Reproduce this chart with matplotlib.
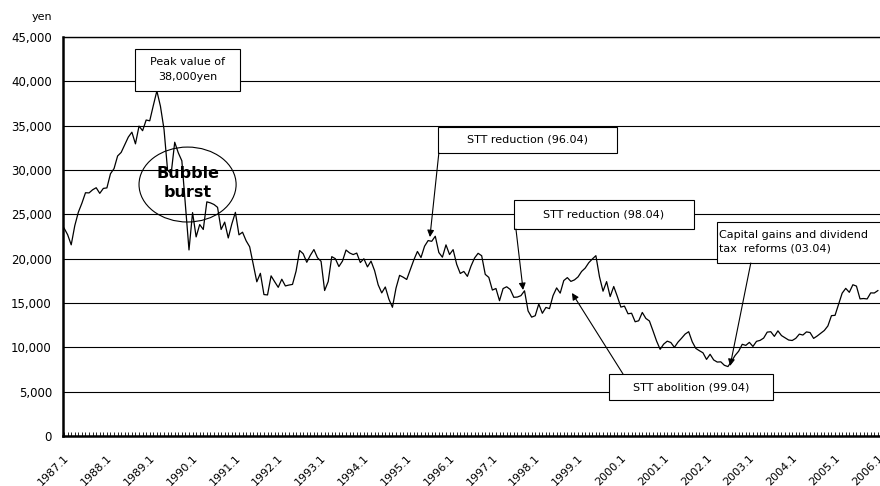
import matplotlib
matplotlib.use("Agg")
import matplotlib.pyplot as plt
import matplotlib.patches as patches
from matplotlib.ticker import FuncFormatter, MultipleLocator

plt.rcParams['font.family'] = ['DejaVu Sans']

# monthly closing values (yen), starting at the left edge of the chart
vals_1987 = [23450, 22700, 21560]
vals_1988 = [23719, 25240, 26260, 27434, 27417, 27769, 28000, 27366, 27924, 27982, 29579, 30159]
vals_1989 = [31581, 31985, 32839, 33713, 34266, 32948, 34954, 34431, 35637, 35549, 37268, 38916]
vals_1990 = [37189, 34592, 29980, 29585, 33131, 31940, 31036, 25978, 20984, 25194, 22455, 23849]
vals_1991 = [23293, 26409, 26292, 26111, 25790, 23291, 24121, 22336, 23916, 25222, 22688, 22984]
vals_1992 = [22023, 21339, 19346, 17391, 18348, 15952, 15910, 18061, 17399, 16768, 17684, 16925]
vals_1993 = [17024, 17098, 18591, 20919, 20552, 19590, 20380, 21027, 20106, 19703, 16408, 17417]
vals_1994 = [20229, 19997, 19112, 19725, 20974, 20644, 20462, 20629, 19564, 19990, 19076, 19723]
vals_1995 = [18650, 17053, 16140, 16807, 15437, 14517, 16678, 18117, 17913, 17655, 18744, 19868]
vals_1996 = [20813, 20125, 21407, 22041, 21956, 22531, 20693, 20167, 21556, 20467, 21020, 19361]
vals_1997 = [18330, 18557, 18003, 19151, 20069, 20605, 20331, 18229, 17888, 16459, 16636, 15259]
vals_1998 = [16628, 16832, 16527, 15641, 15671, 15830, 16379, 14108, 13406, 13564, 14884, 13842]
vals_1999 = [14499, 14368, 15837, 16702, 16112, 17530, 17862, 17437, 17606, 17943, 18558, 18934]
vals_2000 = [19540, 19960, 20337, 17974, 16332, 17411, 15727, 16861, 15747, 14540, 14649, 13786]
vals_2001 = [13844, 12884, 12999, 13935, 13262, 12969, 11861, 10714, 9775, 10366, 10697, 10543]
vals_2002 = [9998, 10588, 11025, 11493, 11764, 10622, 9877, 9619, 9383, 8640, 9216, 8579]
vals_2003 = [8340, 8363, 7973, 7831, 8425, 9083, 9563, 10344, 10219, 10560, 10101, 10677]
vals_2004 = [10784, 11042, 11715, 11762, 11236, 11859, 11326, 11082, 10824, 10771, 11013, 11489]
vals_2005 = [11388, 11741, 11669, 11009, 11277, 11584, 11900, 12414, 13574, 13607, 14872, 16111]
vals_2006 = [16650, 16205, 17060, 16906, 15467, 15505, 15457, 16141, 16128, 16399]

values = (vals_1987 + vals_1988 + vals_1989 + vals_1990 + vals_1991 + vals_1992 +
          vals_1993 + vals_1994 + vals_1995 + vals_1996 + vals_1997 + vals_1998 +
          vals_1999 + vals_2000 + vals_2001 + vals_2002 + vals_2003 + vals_2004 +
          vals_2005 + vals_2006)
months = list(range(len(values)))

year_labels = [f"{y}.1" for y in range(1987, 2007)]
year_pos = [12 * i for i in range(len(year_labels))]

fig = plt.figure(figsize=(8.8, 4.86), dpi=100)
ax = fig.add_axes([63/880, 50/486, 817/880, 399/486])

ax.plot(months, values, color='black', lw=0.9, zorder=2)

ax.set_xlim(-0.3, 228.6)
ax.set_ylim(0, 45000)

# grid / spines
ax.yaxis.set_major_locator(MultipleLocator(5000))
ax.yaxis.grid(True, color='black', lw=0.8)
ax.set_axisbelow(True)
ax.spines['right'].set_visible(False)
ax.spines['top'].set_linewidth(1.0)
ax.spines['left'].set_linewidth(1.8)
ax.spines['bottom'].set_linewidth(1.8)

ax.yaxis.set_major_formatter(FuncFormatter(lambda v, p: f"{int(v):,}"))
ax.tick_params(axis='y', length=0, pad=8, labelsize=8.5)

ax.set_xticks(year_pos)
ax.set_xticklabels(year_labels, rotation=45, ha='right', va='top',
                   rotation_mode='anchor', fontsize=8)
ax.xaxis.set_minor_locator(MultipleLocator(1))
ax.tick_params(axis='x', which='both', direction='in', length=3, width=0.6, pad=12)

fig.text(52/880, 1 - 17/486, 'yen', ha='right', va='center', fontsize=8)

# text boxes (month index, yen)
def box(x0, y0, x1, y1):
    r = patches.Rectangle((x0, y0), x1 - x0, y1 - y0, facecolor='white',
                          edgecolor='black', lw=0.8, zorder=3, clip_on=False)
    ax.add_patch(r)

def arrow(x0, y0, x1, y1):
    ax.annotate('', xy=(x1, y1), xytext=(x0, y0),
                arrowprops=dict(arrowstyle='-|>', color='black', lw=0.8,
                                mutation_scale=10, shrinkA=0, shrinkB=0),
                zorder=4, annotation_clip=False)

# peak
box(19.9, 38950, 49.3, 43650)
ax.text(34.6, 41300, 'Peak value of\n38,000yen', ha='center', va='center',
        fontsize=8, linespacing=1.6, zorder=5)

# bubble burst
ell = patches.Ellipse((34.6, 28360), 27.2, 8450, facecolor='none',
                      edgecolor='black', lw=0.8, zorder=4)
ax.add_patch(ell)
ax.text(34.6, 28500, 'Bubble\nburst', ha='center', va='center', fontsize=11.5,
        fontweight='bold', linespacing=1.35, zorder=5)

# STT reduction 96.04
box(104.8, 31920, 154.9, 34850)
ax.text(129.8, 33400, 'STT reduction (96.04)', ha='center', va='center',
        fontsize=8, zorder=5)
arrow(105.0, 31920, 102.5, 22440)

# STT reduction 98.04
box(126.0, 23345, 176.5, 26616)
ax.text(151.2, 25000, 'STT reduction (98.04)', ha='center', va='center',
        fontsize=8, zorder=5)
arrow(126.6, 23345, 128.6, 16470)

# capital gains
box(182.9, 19511, 240, 24135)
ax.text(183.6, 21900, 'Capital gains and dividend\ntax  reforms (03.04)',
        ha='left', va='center', fontsize=8, linespacing=1.5, zorder=5)
arrow(192.4, 19511, 186.6, 7900)

# STT abolition
box(152.7, 4060, 198.6, 6992)
ax.text(175.6, 5500, 'STT abolition (99.04)', ha='center', va='center',
        fontsize=8, zorder=5)
arrow(156.6, 6992, 142.3, 16130)

fig.savefig('out.png', dpi=100)
